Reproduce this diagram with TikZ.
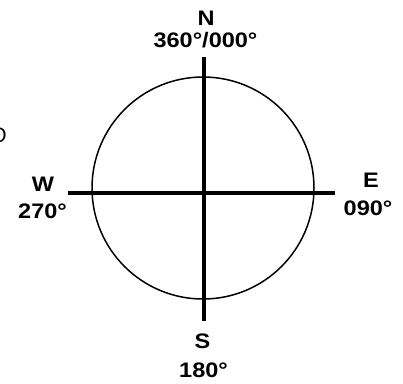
\documentclass[tikz,border=0pt]{standalone}
\usepackage{fontspec}
\setmainfont{Liberation Sans}
\newfontfamily\compassfont[FakeStretch=1.12]{Liberation Sans}

\begin{document}
\begin{tikzpicture}[x=1pt, y=-1pt,
    cross line/.style={line width=4pt},
    point label/.style={font=\compassfont\bfseries\fontsize{21}{21}\selectfont, inner sep=0pt, anchor=base}]

    \useasboundingbox (0,0) rectangle (403,383);

    \coordinate (Ntip) at (204, 57);
    \coordinate (Stip) at (204, 321);
    \coordinate (Wtip) at (68, 192.5);
    \coordinate (Etip) at (335, 192.5);

    \draw[line width=1.5pt] (203, 188) circle (111pt);

    \draw[cross line] (Ntip) -- (Stip);
    \draw[cross line] (Wtip) -- (Etip);

    \node[point label] (N) at (206, 25) {N};
    \node[point label] (Ndeg) at (205.5, 47) {360°/000°};
    \node[point label] (W) at (43, 191) {W};
    \node[point label] (Wdeg) at (42.5, 218) {270°};
    \node[point label] (E) at (371, 187) {E};
    \node[point label] (Edeg) at (368, 215) {090°};
    \node[point label] (S) at (202.5, 348) {S};
    \node[point label] (Sdeg) at (203.5, 377) {180°};

    \node[font=\fontsize{21}{21}\selectfont, inner sep=0pt, anchor=base east] (O) at (7, 142) {O};

\end{tikzpicture}
\end{document}
